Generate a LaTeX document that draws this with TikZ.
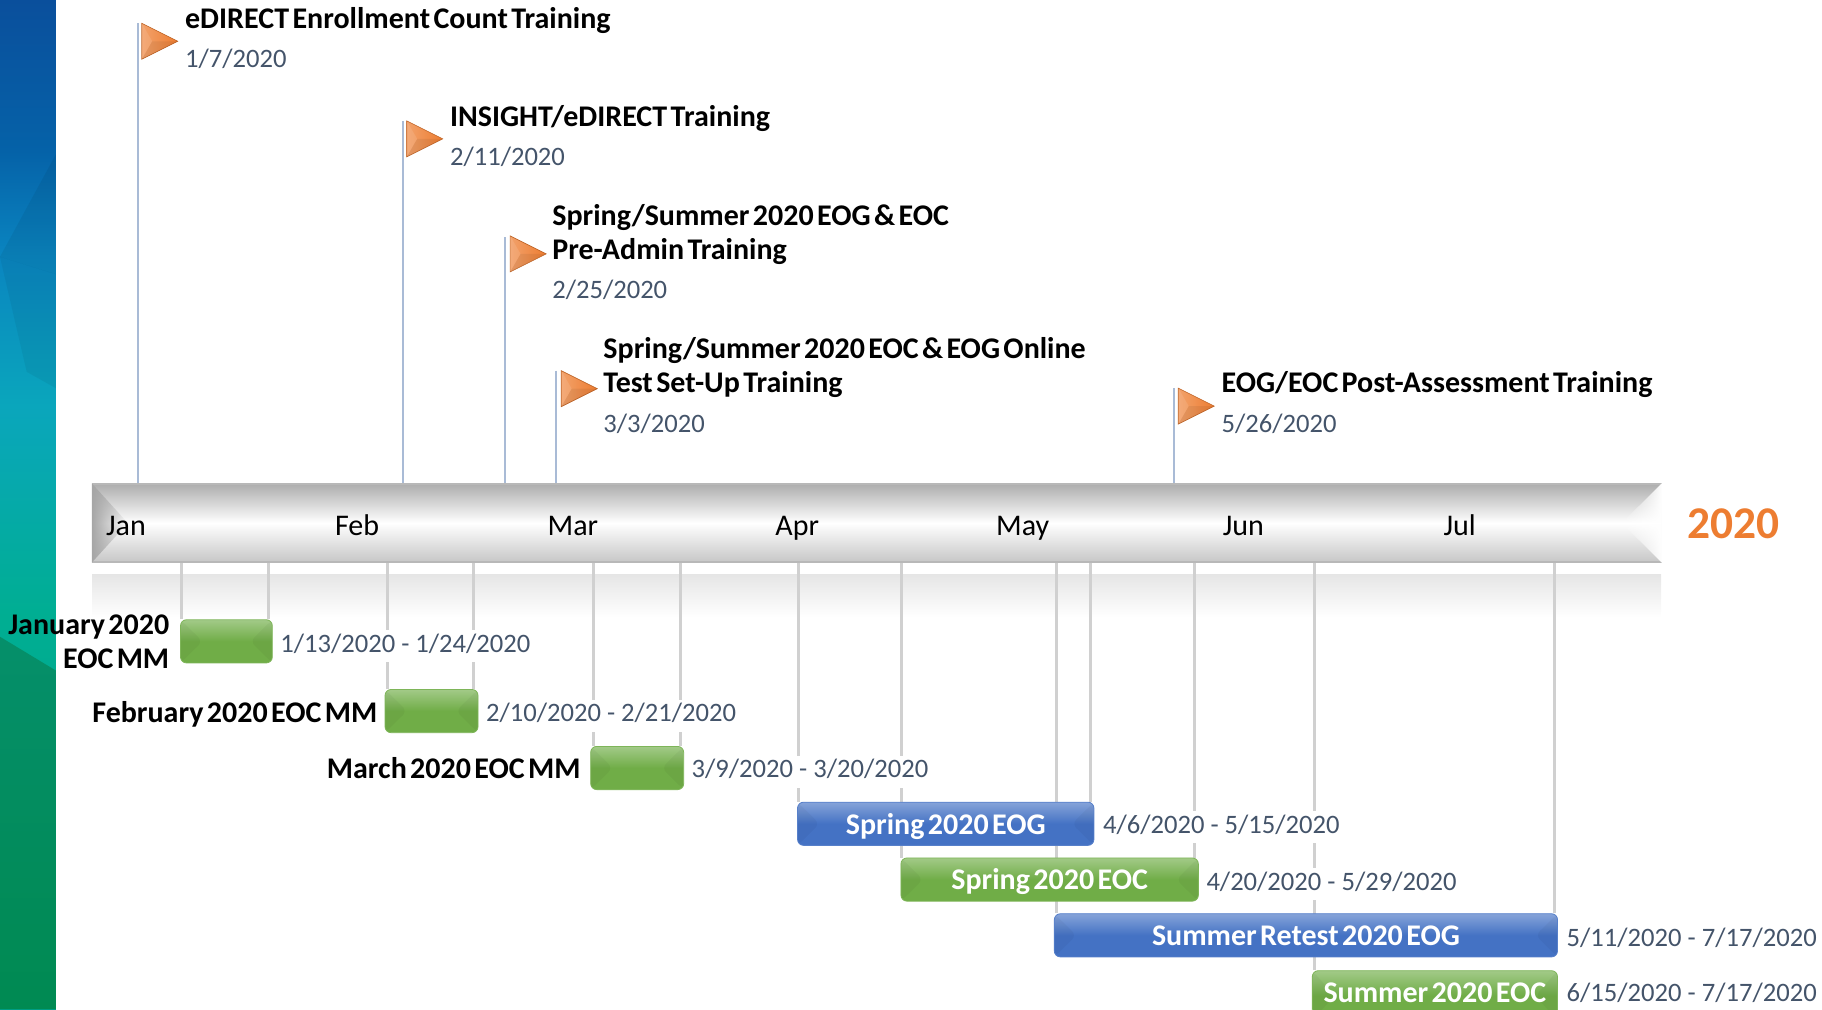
\documentclass[tikz,border=0pt]{standalone}
\usepackage{fontspec}
\setmainfont{Carlito}[BoldFeatures={WordSpace=0.5}]
\usetikzlibrary{fadings}
\pgfdeclarelayer{front}
\pgfsetlayers{main,front}
\definecolor{datecolor}{HTML}{44546A}
\definecolor{polecolor}{HTML}{A9BBD6}
\definecolor{dropcolor}{HTML}{D0D0D0}
\definecolor{orangeflag}{HTML}{ED7D31}
\definecolor{greenbar}{HTML}{70AD47}
\definecolor{bluebar}{HTML}{4472C4}
\definecolor{bandA}{HTML}{00A08C}
\definecolor{bandB}{HTML}{00AE92}
\definecolor{bandC}{HTML}{0AA6BC}
\definecolor{bandD}{HTML}{0A85C0}
\definecolor{bandE}{HTML}{0562A8}
\definecolor{bandF}{HTML}{0A4F9C}
\definecolor{bandG}{HTML}{058F6A}
\definecolor{bandH}{HTML}{008A52}
\pgfdeclareverticalshading{bandshade}{100bp}{color(0bp)=(bandA); color(25bp)=(bandA); color(44.5bp)=(bandB); color(54.9bp)=(bandC); color(62.3bp)=(bandD); color(67.5bp)=(bandE); color(75bp)=(bandF); color(100bp)=(bandF)}
\tikzset{
	monthlabel/.style={anchor=west, inner sep=0pt, text height=10pt, text depth=3.5pt, text=black, font=\fontsize{15}{18}\selectfont},
	titlelabel/.style={anchor=west, inner sep=0pt, align=left, text=black, font=\fontsize{15}{16.9}\selectfont\bfseries},
	mmlabel/.style={anchor=east, inner sep=0pt, align=right, text=black, font=\fontsize{15}{16.9}\selectfont\bfseries},
	datelabel/.style={anchor=west, fill=white, inner xsep=2pt, inner ysep=2pt, text height=9pt, text depth=3pt, text=datecolor, font=\fontsize{13.3}{16}\selectfont},
	poleline/.style={polecolor, line width=1pt},
	dropline/.style={dropcolor, line width=1.5pt},
	facets/.style={path picture={
		\fill[black, opacity=.035] (path picture bounding box.north west) -- (path picture bounding box.south west) -- ([xshift=11pt]path picture bounding box.west) -- cycle;
		\fill[black, opacity=.035] (path picture bounding box.north east) -- (path picture bounding box.south east) -- ([xshift=-11pt]path picture bounding box.east) -- cycle;
	}},
	greentask/.style={anchor=north west, rounded corners=3pt, inner sep=0pt, minimum height=21.6pt, text height=11pt, text depth=.6pt, top color=greenbar!65!white, bottom color=greenbar, middle color=greenbar, draw=greenbar!90!white, line width=.4pt, text=white, font=\fontsize{15}{18}\selectfont\bfseries, facets},
	bluetask/.style={greentask, top color=bluebar!65!white, bottom color=bluebar, middle color=bluebar, draw=bluebar!90!white},
	flagmark/.pic={
		\shade[left color=orangeflag!72!white, right color=orangeflag, draw=orangeflag!80!black, line width=.3pt] (0,0) -- (31,15.5) -- (0,31) -- cycle;
		\fill[white, opacity=.1] (0,0) -- (9,15.5) -- (0,31) -- cycle;
		\fill[black, opacity=.06] (0,31) -- (9,15.5) -- (31,15.5) -- cycle;
	},
}
\begin{document}
\begin{tikzpicture}[x=0.581pt, y=-0.581pt]
\clip (0,0) rectangle (1568,868.4);
\shade[shading=bandshade] (0,0) rectangle (48,868.4);
\fill[black, opacity=.06] (0,221) -- (48,133) -- (48,236) -- cycle;
\fill[black, opacity=.05] (0,221) -- (23,320) -- (48,334) -- (48,236) -- cycle;
\shade[top color=bandG, bottom color=bandH] (0,548) -- (48,577) -- (48,868.4) -- (0,868.4) -- cycle;

\node[anchor=north west, inner sep=0pt, minimum width=784.4pt, minimum height=21.5pt, top color=black!10, bottom color=white] (shine) at (79,494) {};

\node[anchor=north west, inner sep=0pt, minimum width=784.4pt, minimum height=39pt, top color=black!32, bottom color=black!22, middle color=white, draw=black!28, line width=.6pt] (timeline) at (79,416) {};
\fill[black!35, path fading=east] (timeline.north west) -- (timeline.south west) -- ([xshift=18pt]timeline.west) -- cycle;
\fill[white, path fading=west] (timeline.north east) -- (timeline.south east) -- ([xshift=-20pt]timeline.east) -- cycle;

\node[monthlabel] (jan) at (91,455) {Jan};
\node[monthlabel] (feb) at (288,455) {Feb};
\node[monthlabel] (mar) at (471,455) {Mar};
\node[monthlabel] (apr) at (667,455) {Apr};
\node[monthlabel] (may) at (857,455) {May};
\node[monthlabel] (jun) at (1052,455) {Jun};
\node[monthlabel] (jul) at (1242,455) {Jul};
\node[anchor=west, inner sep=0pt, text=orangeflag, font=\fontsize{22.7}{26}\selectfont\bfseries] (year) at (1452,451) {2020};

\coordinate (poleA) at (119,20);
\coordinate (poleB) at (347,104);
\coordinate (poleC) at (435,204);
\coordinate (poleD) at (478.5,319);
\coordinate (poleE) at (1010,334);
\draw[poleline] (poleA) -- (poleA |- timeline.north);
\draw[poleline] (poleB) -- (poleB |- timeline.north);
\draw[poleline] (poleC) -- (poleC |- timeline.north);
\draw[poleline] (poleD) -- (poleD |- timeline.north);
\draw[poleline] (poleE) -- (poleE |- timeline.north);
\pic at (122,20) {flagmark};
\pic at (350,104) {flagmark};
\pic at (439,203) {flagmark};
\pic at (483,319) {flagmark};
\pic at (1014,334) {flagmark};

\node[titlelabel] (trainA) at (159,18) {eDIRECT Enrollment Count Training};
\node[datelabel, fill=none] (dateA) at (155.5,53) {1/7/2020};
\node[titlelabel] (trainB) at (387,102) {INSIGHT/eDIRECT Training};
\node[datelabel, fill=none] (dateB) at (383.5,137) {2/11/2020};
\node[titlelabel] (trainC) at (475,201.5) {Spring/Summer 2020 EOG \& EOC\\Pre-Admin Training};
\node[datelabel, fill=none] (dateC) at (471.5,252) {2/25/2020};
\node[titlelabel] (trainD) at (519,316.5) {Spring/Summer 2020 EOC \& EOG Online\\Test Set-Up Training};
\node[datelabel, fill=none] (dateD) at (515.5,367) {3/3/2020};
\node[titlelabel] (trainE) at (1051,331) {EOG/EOC Post-Assessment Training};
\node[datelabel, fill=none] (dateE) at (1047.5,367) {5/26/2020};

\begin{pgfonlayer}{front}
\clip (0,0) rectangle (1568,868.4);
\node[greentask, minimum width=45.9pt] (mmJan) at (155,533) {};
\node[greentask, minimum width=46.5pt] (mmFeb) at (331,593) {};
\node[greentask, minimum width=46.5pt] (mmMar) at (508,642) {};
\node[bluetask, minimum width=148.2pt] (egSpring) at (686,690) {Spring 2020 EOG};
\node[greentask, minimum width=148.7pt] (ecSpring) at (775,738) {Spring 2020 EOC};
\node[bluetask, minimum width=251.6pt] (egRetest) at (907,786) {Summer Retest 2020 EOG};
\node[greentask, minimum width=122.6pt, minimum height=25pt, text height=10pt, text depth=3pt] (ecSummer) at (1129,835) {Summer 2020 EOC};

\node[mmlabel] (nameJan) at (146,552.5) {January 2020\\EOC MM};
\node[mmlabel] (nameFeb) at (325,615) {February 2020 EOC MM};
\node[mmlabel] (nameMar) at (500,661) {March 2020 EOC MM};

\node[datelabel] (spanJan) at (237.5,556) {1/13/2020 - 1/24/2020};
\node[datelabel] (spanFeb) at (414.5,616) {2/10/2020 - 2/21/2020};
\node[datelabel] (spanMar) at (591.5,664) {3/9/2020 - 3/20/2020};
\node[datelabel] (spanSpringG) at (945.5,712) {4/6/2020 - 5/15/2020};
\node[datelabel] (spanSpringC) at (1034.5,761) {4/20/2020 - 5/29/2020};
\node[datelabel] (spanRetest) at (1344.5,809) {5/11/2020 - 7/17/2020};
\node[datelabel] (spanSummer) at (1344.5,857) {6/15/2020 - 7/17/2020};
\end{pgfonlayer}

\draw[dropline] ([xshift=.6pt]mmJan.north west) -- ([xshift=.6pt]mmJan.north west |- timeline.south);
\draw[dropline] ([xshift=-2.3pt]mmJan.north east) -- ([xshift=-2.3pt]mmJan.north east |- timeline.south);
\draw[dropline] ([xshift=1.2pt]mmFeb.north west) -- ([xshift=1.2pt]mmFeb.north west |- timeline.south);
\draw[dropline] ([xshift=-2.3pt]mmFeb.north east) -- ([xshift=-2.3pt]mmFeb.north east |- timeline.south);
\draw[dropline] ([xshift=1.7pt]mmMar.north west) -- ([xshift=1.7pt]mmMar.north west |- timeline.south);
\draw[dropline] ([xshift=-2pt]mmMar.north east) -- ([xshift=-2pt]mmMar.north east |- timeline.south);
\draw[dropline] ([xshift=.9pt]egSpring.north west) -- ([xshift=.9pt]egSpring.north west |- timeline.south);
\draw[dropline] ([xshift=-1.7pt]egSpring.north east) -- ([xshift=-1.7pt]egSpring.north east |- timeline.south);
\draw[dropline] ([xshift=.6pt]ecSpring.north west) -- ([xshift=.6pt]ecSpring.north west |- timeline.south);
\draw[dropline] ([xshift=-2.3pt]ecSpring.north east) -- ([xshift=-2.3pt]ecSpring.north east |- timeline.south);
\draw[dropline] ([xshift=1.2pt]egRetest.north west) -- ([xshift=1.2pt]egRetest.north west |- timeline.south);
\draw[dropline] ([xshift=-1.7pt]egRetest.north east) -- ([xshift=-1.7pt]egRetest.north east |- timeline.south);
\draw[dropline] ([xshift=1.2pt]ecSummer.north west) -- ([xshift=1.2pt]ecSummer.north west |- timeline.south);
\end{tikzpicture}
\end{document}
